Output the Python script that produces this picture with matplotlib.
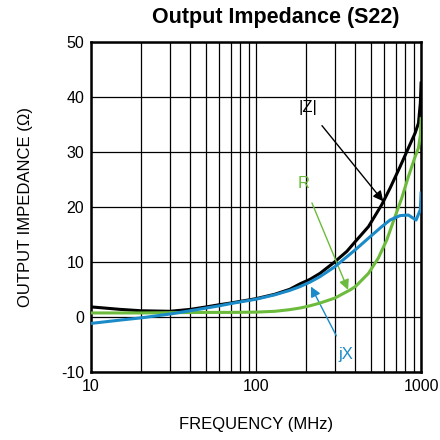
import numpy as np
import matplotlib.pyplot as plt
from matplotlib.ticker import LogLocator, NullFormatter, FixedLocator

plt.rcParams['font.family'] = ['Liberation Sans', 'DejaVu Sans']
plt.rcParams['axes.unicode_minus'] = False

# Data (frequency in MHz, impedance in ohms)
freq_z = [10, 15, 20, 30, 40, 50, 60, 70, 80, 100, 130, 160, 185, 212, 244, 300,
          355, 400, 480, 578, 649, 746, 838, 920, 964, 990, 1000]
mag_z = [1.8, 1.35, 1.1, 1.0, 1.35, 1.8, 2.2, 2.5, 2.8, 3.3, 4.1, 5.0, 6.0, 6.8, 7.9, 10.0,
         11.9, 13.7, 16.4, 20.4, 23.4, 27.3, 30.7, 33.4, 35.2, 38.9, 42.5]

freq_x = [10, 15, 20, 30, 40, 50, 60, 70, 80, 100, 130, 160, 185, 212, 244, 300,
          400, 480, 578, 649, 746, 838, 899, 933, 990, 1000]
jx = [-1.2, -0.6, -0.2, 0.5, 1.1, 1.6, 2.0, 2.4, 2.7, 3.2, 4.0, 4.8, 5.5, 6.3, 7.3, 9.1,
      12.2, 14.3, 16.4, 17.6, 18.4, 18.5, 17.9, 17.6, 19.5, 22.5]

freq_r = [10, 20, 30, 50, 70, 100, 130, 160, 185, 212, 244, 300, 372, 400, 480, 551,
          620, 695, 764, 838, 920, 964, 990, 1000]
res_r = [0.7, 0.7, 0.75, 0.8, 0.8, 0.85, 1.0, 1.3, 1.6, 2.0, 2.5, 3.4, 4.9, 5.5, 7.9, 10.7,
         14.0, 18.2, 21.6, 25.5, 29.1, 30.7, 33.0, 36.0]

c_green = '#6cbb3c'
c_blue = '#1a8bc8'

fig = plt.figure(figsize=(4.4, 4.4), dpi=100)
ax = fig.add_axes([0.207, 0.155, 0.75, 0.75])

ax.plot(freq_z, mag_z, color='black', lw=2.2, zorder=3, solid_joinstyle='round')
ax.plot(freq_r, res_r, color=c_green, lw=2.2, zorder=4, solid_joinstyle='round')
ax.plot(freq_x, jx, color=c_blue, lw=2.2, zorder=5, solid_joinstyle='round')

ax.set_xscale('log')
ax.set_xlim(10, 1000)
ax.set_ylim(-10, 50)
ax.yaxis.set_major_locator(FixedLocator([-10, 0, 10, 20, 30, 40, 50]))
ax.xaxis.set_major_locator(FixedLocator([10, 100, 1000]))
ax.xaxis.set_major_formatter(plt.FuncFormatter(lambda v, p: f'{int(v)}'))
ax.xaxis.set_minor_locator(LogLocator(base=10, subs=np.arange(2, 10)))
ax.xaxis.set_minor_formatter(NullFormatter())

ax.grid(True, which='both', axis='x', color='black', lw=0.9)
ax.grid(True, which='major', axis='y', color='black', lw=0.9)
ax.tick_params(which='both', length=0, labelsize=11.5, pad=5)
for s in ax.spines.values():
    s.set_linewidth(1.8)

ax.set_xlabel('FREQUENCY (MHz)', fontsize=12, labelpad=17)
ax.set_ylabel('OUTPUT IMPEDANCE (Ω)', fontsize=12, labelpad=20)
fig.text(0.627, 0.961, 'Output Impedance (S22)', fontsize=15.5, fontweight='bold',
         ha='center', va='center')

ax.annotate('|Z|', xy=(590, 21), xytext=(205, 38), fontsize=12, color='black',
            ha='center', va='center',
            arrowprops=dict(arrowstyle='-|>', color='black', lw=1, mutation_scale=15,
                            shrinkA=7, shrinkB=0))
ax.annotate('R', xy=(361, 4.9), xytext=(195, 24.2), fontsize=12, color=c_green,
            ha='center', va='center',
            arrowprops=dict(arrowstyle='-|>', color=c_green, lw=1, mutation_scale=15,
                            shrinkA=7, shrinkB=0))
ax.annotate('jX', xy=(215, 5.5), xytext=(351, -6.9), fontsize=12, color=c_blue,
            ha='center', va='center',
            arrowprops=dict(arrowstyle='-|>', color=c_blue, lw=1, mutation_scale=15,
                            shrinkA=7, shrinkB=0))

fig.savefig('out.png', dpi=100)
